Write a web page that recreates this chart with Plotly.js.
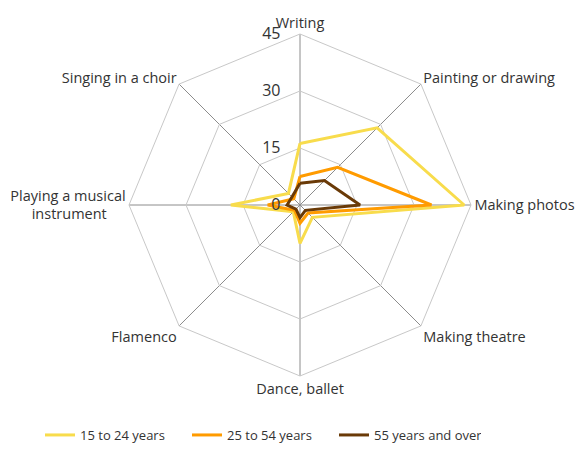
<!DOCTYPE html>
<html>
<head>
<meta charset="utf-8">
<script src="https://cdn.plot.ly/plotly-3.0.1.min.js"></script>
<style>html,body{margin:0;padding:0;background:#fff}</style>
</head>
<body>
<div id="chart" style="width:580px;height:450px"></div>
<script>
const categories = ["Writing", "Painting or drawing", "Making photos", "Making theatre", "Dance, ballet", "Flamenco", "Playing a musical<br>instrument&nbsp;&nbsp;&nbsp;&nbsp;&nbsp;", "Singing in a choir"];
const seriesNames = ["15 to 24 years", "25 to 54 years", "55 years and over"];
const young = [16.2, 28.7, 43.2, 4.6, 10.1, 2.5, 18.2, 4.3];
const middle = [7.5, 14.0, 34.6, 3.0, 4.8, 2.0, 8.5, 2.3];
const senior = [5.7, 9.1, 15.8, 2.0, 3.3, 1.5, 3.4, 3.0];
const radialTicks = [0, 15, 30, 45];
const colors = ["#F8DC4C", "#FF9B00", "#6A3A07"];

const seriesValues = [young, middle, senior];
const traces = seriesValues.map((vals, i) => ({
  type: "scatterpolar",
  mode: "lines",
  r: vals.concat([vals[0]]),
  theta: categories.concat([categories[0]]),
  name: seriesNames[i],
  line: {color: colors[i], width: 3},
  hoverinfo: "none"
}));

const pad = "&nbsp;".repeat(4);
const R = 171, cx = 300, cy = 205;
const layout = {
  width: 580, height: 450,
  margin: {l: 0, r: 0, t: 0, b: 0, autoexpand: false},
  paper_bgcolor: "#fff",
  font: {family: "'Open Sans', sans-serif", color: "#333", size: 14.5},
  showlegend: true,
  legend: {orientation: "h", x: 40 / 580, xanchor: "left", y: 0, yanchor: "bottom", font: {size: 13, color: "#333"}, entrywidth: 102, entrywidthmode: "pixels"},
  polar: {
    domain: {x: [(cx - R) / 580, (cx + R) / 580], y: [(450 - cy - R) / 450, (450 - cy + R) / 450]},
    gridshape: "linear",
    bgcolor: "#fff",
    angularaxis: {
      rotation: 90, direction: "clockwise",
      showline: true, linecolor: "#c8c8c8", linewidth: 1,
      gridcolor: "#8c8c8c", gridwidth: 1,
      ticks: "", tickfont: {size: 14.5, color: "#333"}
    },
    radialaxis: {
      range: [0, 45], tickvals: radialTicks, ticktext: radialTicks.map(v => String(v) + pad),
      angle: 90, tickangle: 90, side: "counterclockwise",
      showline: false, ticks: "",
      gridcolor: "#c8c8c8", gridwidth: 1,
      tickfont: {size: 16, color: "#333"}
    }
  }
};
Plotly.newPlot("chart", traces, layout, {displayModeBar: false, staticPlot: true});
</script>
</body>
</html>
